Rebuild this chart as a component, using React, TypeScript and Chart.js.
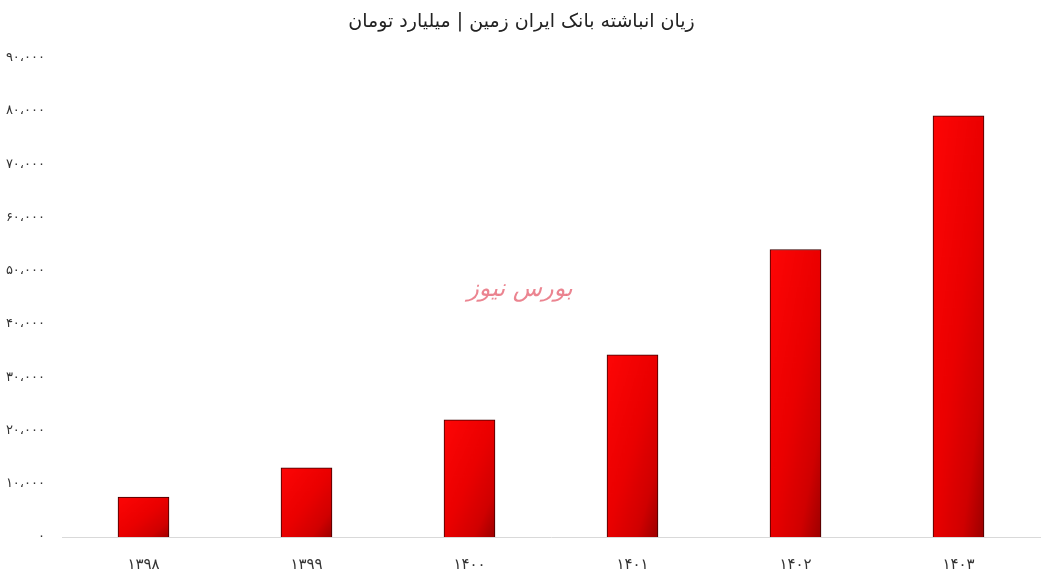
import React, { useEffect, useRef } from "react";
import { Chart, registerables } from "chart.js";

Chart.register(...registerables);

const categories = ["۱۳۹۸", "۱۳۹۹", "۱۴۰۰", "۱۴۰۱", "۱۴۰۲", "۱۴۰۳"];
const values = [7500, 13000, 22000, 34200, 54000, 79100];
const yMin = 0;
const yMax = 90000;
const yStep = 10000;
const titleText = "زیان انباشته بانک ایران زمین | میلیارد تومان";
const watermarkText = "بورس نیوز";

const W = 1047;
const H = 583;
const BAR_W = 51;
const FONT = "'DejaVu Sans', 'Noto Sans', sans-serif";

const PERSIAN_DIGITS = "۰۱۲۳۴۵۶۷۸۹";
function toPersian(n: number): string {
  return n
    .toLocaleString("en-US")
    .replace(/\d/g, (d) => PERSIAN_DIGITS[Number(d)])
    .replace(/,/g, "،");
}

function makeBarPattern(chart: any, left: number, top: number, w: number, h: number) {
  const pad = 2;
  const iw = Math.max(1, Math.round(w)) + pad * 2;
  const ih = Math.max(1, Math.round(h)) + pad * 2;
  const off = document.createElement("canvas");
  off.width = 100;
  off.height = 100;
  const octx = off.getContext("2d")!;
  const g = octx.createLinearGradient(0, 0, 100, 100);
  g.addColorStop(0, "#ff0606");
  g.addColorStop(0.5, "#ea0000");
  g.addColorStop(0.78, "#d00000");
  g.addColorStop(1, "#960000");
  octx.fillStyle = g;
  octx.fillRect(0, 0, 100, 100);
  const big = document.createElement("canvas");
  big.width = iw;
  big.height = ih;
  const bctx = big.getContext("2d")!;
  bctx.drawImage(off, 0, 0, iw, ih);
  const pat = chart.ctx.createPattern(big, "no-repeat");
  if (pat && (pat as any).setTransform) {
    pat.setTransform(new DOMMatrix().translate(left - pad, top - pad));
  }
  return pat;
}

const watermarkPlugin = {
  id: "watermark",
  afterDraw(chart: any) {
    const { ctx } = chart;
    ctx.save();
    ctx.font = `italic 24px ${FONT}`;
    ctx.fillStyle = "rgba(232, 110, 125, 0.85)";
    ctx.textAlign = "center";
    ctx.textBaseline = "middle";
    ctx.fillText(watermarkText, 520, 290);
    ctx.restore();
  },
};

export default function App() {
  const canvasRef = useRef<HTMLCanvasElement | null>(null);

  useEffect(() => {
    document.body.style.margin = "0";
    const canvas = canvasRef.current;
    if (!canvas) return;
    const chart = new Chart(canvas, {
      type: "bar",
      data: {
        labels: categories,
        datasets: [
          {
            data: values,
            backgroundColor: (ctx: any) => {
              const c = ctx.chart;
              const { chartArea, scales } = c;
              if (!chartArea || ctx.type !== "data" || !scales.x || !scales.y) return "#ee0000";
              const cx = scales.x.getPixelForValue(ctx.dataIndex);
              const top = scales.y.getPixelForValue(values[ctx.dataIndex]);
              const bottom = scales.y.getPixelForValue(0);
              return makeBarPattern(c, cx - BAR_W / 2, top, BAR_W, bottom - top) || "#ee0000";
            },
            borderColor: "#3a0000",
            borderWidth: 1,
            barThickness: BAR_W,
          },
        ],
      },
      options: {
        responsive: false,
        animation: false,
        layout: { padding: { left: 3, right: 7, top: 0, bottom: 9 } },
        plugins: {
          legend: { display: false },
          tooltip: { enabled: false },
          title: {
            display: true,
            text: titleText,
            color: "#222222",
            font: { family: FONT, size: 19, weight: "normal" },
            padding: { top: 11, bottom: 24 },
          },
        },
        scales: {
          x: {
            grid: { display: false, drawTicks: false },
            border: { display: true, color: "#d9d9d9", width: 1 },
            afterFit: (scale: any) => {
              scale.height = 37;
            },
            ticks: {
              color: "#333333",
              font: { family: FONT, size: 15 },
              padding: 19,
            },
          },
          y: {
            min: yMin,
            max: yMax,
            grid: { display: false, drawTicks: false },
            border: { display: false },
            afterFit: (scale: any) => {
              scale.width = 59;
            },
            ticks: {
              stepSize: yStep,
              color: "#333333",
              font: { family: FONT, size: 13 },
              padding: 17,
              callback: (v: any) => toPersian(Number(v)),
            },
          },
        },
      },
      plugins: [watermarkPlugin],
    });
    return () => chart.destroy();
  }, []);

  return (
    <div style={{ width: W, height: H }}>
      <canvas ref={canvasRef} width={W} height={H} />
    </div>
  );
}
